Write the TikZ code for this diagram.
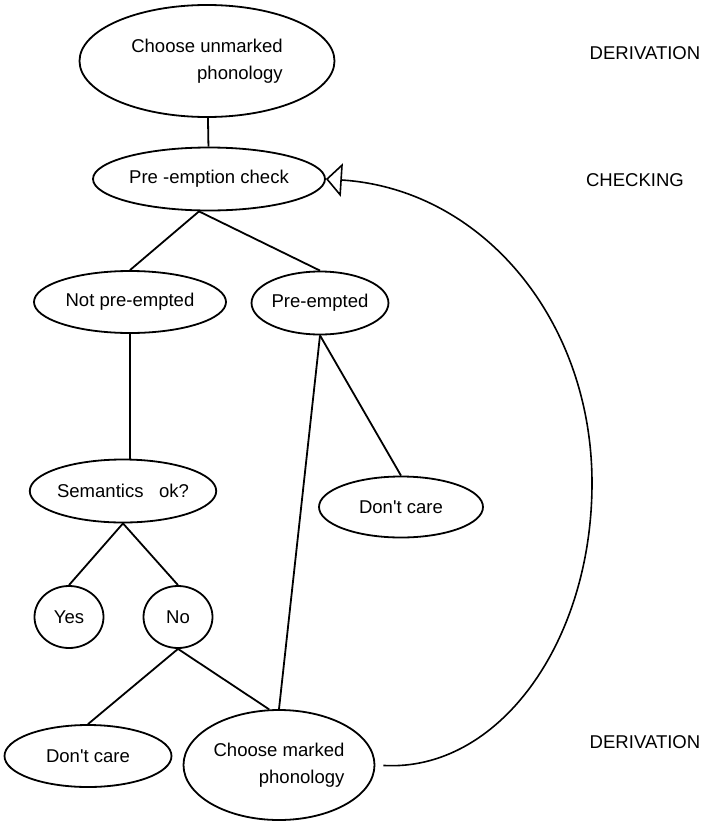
\documentclass[tikz,border=0pt]{standalone}
\usepackage{fontspec}
\setmainfont{Liberation Sans}
\usetikzlibrary{shapes.geometric,arrows.meta}

\begin{document}
\begin{tikzpicture}[x=0.75pt,y=0.75pt,yscale=-1,xscale=1,
    every node/.style={font=\fontsize{13.9}{20}\selectfont},
    oval/.style={draw,ellipse,line width=1.35pt,inner sep=0pt,align=right},
    stage/.style={inner sep=0.75pt},
    branch/.style={line width=1.35pt},
    feedback/.style={line width=1.2pt,-{Triangle[open,length=12pt,width=25pt,line width=1.2pt]}}]
    \useasboundingbox (0,0) rectangle (702,821);
    % tree of checks
    \node [oval,minimum width=191.25pt,minimum height=84pt] (unmarked) at (207,61) {Choose unmarked\\phonology};
    \node [oval,minimum width=174pt,minimum height=47.25pt] (check) at (209,179) {Pre -emption check};
    \node [oval,minimum width=144pt,minimum height=46.5pt] (notpre) at (130,302) {Not pre-empted};
    \node [oval,minimum width=102pt,minimum height=47.25pt] (pre) at (320,303) {Pre-empted};
    \node [oval,minimum width=133.5pt,minimum height=47.25pt] (sem) at (123,491) {Semantics\ \ \ ok?};
    \node [oval,minimum width=123pt,minimum height=45.75pt] (care1) at (401,507) {Don\textquotesingle t care};
    \node [oval,minimum width=51.75pt,minimum height=46.5pt] (yes) at (69,617) {Yes};
    \node [oval,minimum width=51.75pt,minimum height=46.5pt] (no) at (178,617) {No};
    \node [oval,minimum width=125.25pt,minimum height=46.5pt] (care2) at (88,756) {Don\textquotesingle t care};
    \node [oval,minimum width=143.25pt,minimum height=82.5pt] (marked) at (279,765) {Choose marked\\phonology};
    % stages
    \node [stage] (deriv1) at (645,53) {DERIVATION};
    \node [stage] (checking) at (635,180) {CHECKING};
    \node [stage] (deriv2) at (645,742) {DERIVATION};
    % connectors
    \draw [branch] (unmarked) -- (check);
    \draw [branch] ([xshift=-7.5pt]check.south) -- (notpre.north);
    \draw [branch] ([xshift=-7.5pt]check.south) -- (pre.north);
    \draw [branch] (notpre.south) -- (notpre.south |- sem.north);
    \draw [branch] (sem.south) -- (yes.north);
    \draw [branch] (sem.south) -- (no.north);
    \draw [branch] (no.south) -- (care2.north);
    \draw [branch] (no.south) -- (marked.100);
    \draw [branch] (pre.south) -- (marked.north);
    \draw [branch] (pre.south) -- (care1.north);
    \draw [feedback,shorten <=6pt] (marked.east) .. controls (498,772) and (592,643) .. (592,483) .. controls (592,321) and (483,189) .. (check.east);
\end{tikzpicture}
\end{document}
